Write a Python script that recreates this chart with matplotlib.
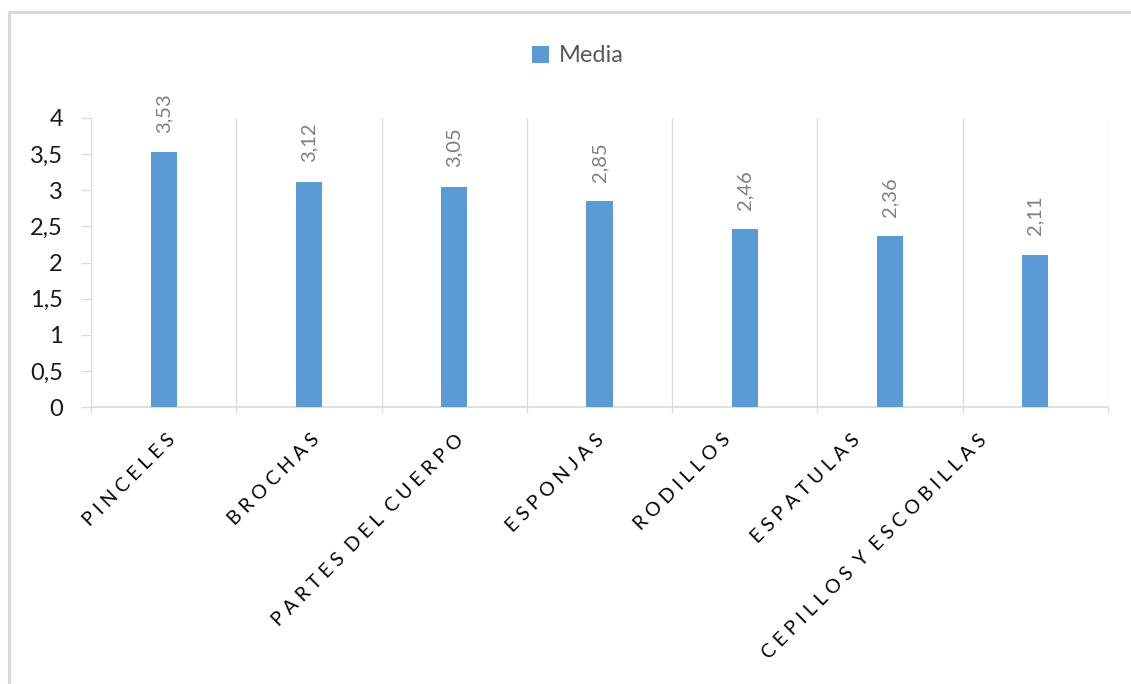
import numpy as np
import matplotlib.pyplot as plt
from matplotlib.lines import Line2D
from matplotlib.transforms import offset_copy

# datos
categorias = ["PINCELES", "BROCHAS", "PARTES DEL CUERPO", "ESPONJAS",
              "RODILLOS", "ESPATULAS", "CEPILLOS Y ESCOBILLAS"]
media = [3.53, 3.12, 3.05, 2.85, 2.46, 2.36, 2.11]
yticks = [0, 0.5, 1, 1.5, 2, 2.5, 3, 3.5, 4]

plt.rcParams['font.family'] = ['Lato', 'DejaVu Sans']

W, H = 1131, 684
fig = plt.figure(figsize=(W / 100, H / 100), dpi=100)
ax = fig.add_axes([91 / W, 1 - 407 / H, (1108 - 91) / W, (407 - 118) / H])

azul = '#5b9bd5'
gris = '#d9d9d9'
x = np.arange(len(categorias))

ax.bar(x, media, width=0.18, color=azul, label='Media', zorder=3)

# etiquetas de valor, giradas
for xi, v in zip(x, media):
    ax.annotate(f"{v:.2f}".replace('.', ','), (xi, v), xytext=(0, 14),
                textcoords='offset points', rotation=90, ha='center',
                va='bottom', fontsize=14.5, color='#7f7f7f')

ax.set_xlim(-0.5, len(categorias) - 0.5)
ax.set_ylim(0, 4)

# lineas verticales entre categorias
bordes = np.arange(len(categorias) + 1) - 0.5
for b in bordes:
    ax.axvline(b, color=gris, linewidth=0.9, zorder=1)

for s in ['top', 'right', 'left']:
    ax.spines[s].set_visible(False)
ax.spines['bottom'].set_color(gris)
ax.spines['bottom'].set_linewidth(1.2)

ax.set_yticks(yticks)
ax.set_yticklabels([f"{t:g}".replace('.', ',') for t in yticks])
ax.tick_params(axis='y', length=7.2, width=0.9, color=gris, pad=13,
               labelsize=17, labelcolor='#1a1a1a')

ax.set_xticks(x)
ax.set_xticklabels([])
ax.tick_params(axis='x', which='major', length=0)
ax.set_xticks(bordes, minor=True)
ax.tick_params(axis='x', which='minor', length=4.5, width=0.9, color=gris)

# nombres de categoria inclinados, con letras espaciadas
ajuste = [8.5, 7.2, 6.9, 1.6, -17.6, -32.9, -51.2]
for xi, nombre, dx in zip(x, categorias, ajuste):
    tr = offset_copy(ax.get_xaxis_transform(), fig=fig,
                     x=dx * 0.72, y=-30 * 0.72, units='points')
    espaciado = '\u2005 '.join('\u2005'.join(p) for p in nombre.split())
    ax.text(xi, 0, espaciado, transform=tr, rotation=45,
            rotation_mode='anchor', ha='right', va='center',
            fontsize=14, color='black')

leg = fig.legend(loc='center', bbox_to_anchor=(578 / W, 1 - 56 / H),
                 frameon=False, fontsize=17, handlelength=0.7,
                 handleheight=0.7, handletextpad=0.45)
for t in leg.get_texts():
    t.set_color('#595959')

# marco del grafico
fig.add_artist(Line2D([8.5 / W, 1], [1 - 11.5 / H] * 2, color=gris,
                      linewidth=2.2))
fig.add_artist(Line2D([8.5 / W] * 2, [0, 1 - 11.5 / H], color=gris,
                      linewidth=2.2))

fig.savefig('out.png', dpi=100)
